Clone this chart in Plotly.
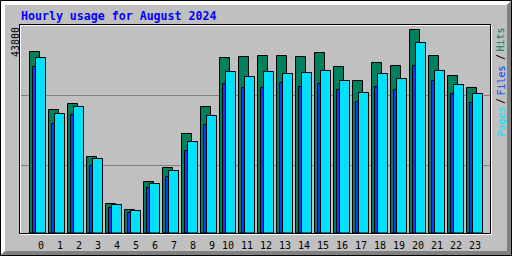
import plotly.graph_objects as go

# ---- data ----
hours = list(range(24))
hour_labels = [str(h) for h in hours]
hits = [39060, 26580, 27870, 16470, 6350, 5060, 11080, 14100, 21420, 27230, 37770, 37990,
        38200, 38200, 37990, 38850, 35840, 32820, 36700, 36050, 43800, 38200, 33900, 31320]
files = [35840, 23570, 25510, 14530, 5490, 4410, 9790, 12160, 17760, 23350, 32180, 31320,
         31320, 32390, 31530, 32180, 30890, 28300, 31530, 30890, 36050, 32820, 30030, 28090]
pages = [37770, 25720, 27230, 16040, 6130, 4840, 10650, 13450, 19690, 25290, 34760, 33680,
         34760, 34330, 34540, 34980, 32820, 30240, 34330, 33250, 41000, 34980, 31960, 30030]
max_label = "43800"
title_text = "Hourly usage for August 2024"

C_HITS = "#00805C"
C_FILES = "#0040FF"
C_PAGES = "#00E0FF"
BG = "#C0C0C0"

W, H = 512, 256
L, R, T, B = 20, 490, 25, 233  # plot area in pixels
ymax = 43800 * 208 / 203.5

def px(X):
    return (X - L) / (R - L)

def py(Y):
    return (B - Y) / (B - T)

def yval(Y):
    return (B - Y) / (B - T) * ymax

fig = go.Figure()
line = dict(color="black", width=1)
fig.add_trace(go.Bar(x=hours, y=hits, width=0.526, offset=-0.421,
                     marker=dict(color=C_HITS, line=line), name="Hits"))
fig.add_trace(go.Bar(x=hours, y=files, width=0.263, offset=-0.263,
                     marker=dict(color=C_FILES, line=line), name="Files"))
fig.add_trace(go.Bar(x=hours, y=pages, width=0.526, offset=-0.105,
                     marker=dict(color=C_PAGES, line=line), name="Pages"))

x0 = (L - 37.5) / 19
x1 = (R - 37.5) / 19

shapes = []
# outer bevel
def path(pts):
    s = "M " + " L ".join(f"{px(a)},{py(b)}" for a, b in pts) + " Z"
    return s
shapes.append(dict(type="path", xref="paper", yref="paper", layer="above",
                   path=path([(1, 1), (511, 1), (507, 5), (5, 5), (5, 251), (1, 255)]),
                   fillcolor="white", line=dict(width=0)))
shapes.append(dict(type="path", xref="paper", yref="paper", layer="above",
                   path=path([(511, 1), (511, 255), (1, 255), (5, 251), (507, 251), (507, 5)]),
                   fillcolor="#808080", line=dict(width=0)))
shapes.append(dict(type="rect", xref="paper", yref="paper", layer="above",
                   x0=px(0.5), x1=px(511.5), y0=py(0.5), y1=py(255.5),
                   line=dict(color="black", width=1)))
# plot frame
shapes.append(dict(type="rect", xref="paper", yref="paper", layer="above",
                   x0=px(20.5), x1=px(491.5), y0=py(25.5), y1=py(234.5),
                   line=dict(color="white", width=1)))
shapes.append(dict(type="rect", xref="paper", yref="paper", layer="above",
                   x0=px(19.5), x1=px(490.5), y0=py(24.5), y1=py(233.5),
                   line=dict(color="black", width=1)))

ann = []
mono = "DejaVu Sans Mono"
ann.append(dict(text=f"<b>{title_text}</b>", x=px(18.5), y=py(15.5), xref="paper", yref="paper",
                xanchor="left", yanchor="middle", showarrow=False,
                font=dict(family=mono, size=11.6, color="#0000FF")))
ann.append(dict(text=max_label, x=px(15), y=py(42), xref="paper", yref="paper",
                xanchor="center", yanchor="middle", showarrow=False, textangle=-90,
                font=dict(family=mono, size=10, color="black")))
for h, lab in zip(hours, hour_labels):
    ann.append(dict(text=lab, x=h + 0.43, y=py(245), xref="x", yref="paper",
                    xanchor="right", yanchor="middle", showarrow=False,
                    font=dict(family=mono, size=10, color="black")))
legend_parts = [("Pages", C_PAGES, 122), ("/", "black", 101.5), ("Files", C_FILES, 81),
                ("/", "black", 57.5), ("Hits", C_HITS, 40)]
for txt, col, yc in legend_parts:
    ann.append(dict(text=txt, x=px(500.5), y=py(yc), xref="paper", yref="paper",
                    xanchor="center", yanchor="middle", showarrow=False, textangle=-90,
                    font=dict(family=mono, size=10, color=col)))

fig.update_layout(
    width=W, height=H, margin=dict(l=L, r=W - R, t=T, b=H - B, pad=0),
    paper_bgcolor=BG, plot_bgcolor=BG, barmode="overlay", showlegend=False,
    shapes=shapes, annotations=ann,
    xaxis=dict(range=[x0, x1], showgrid=False, zeroline=False, showticklabels=False,
               ticks="", showline=False, fixedrange=True),
    yaxis=dict(range=[0, ymax], tickvals=[yval(165.5), yval(95.5)], showgrid=True,
               gridcolor="#808080", gridwidth=1, zeroline=False, showticklabels=False,
               ticks="", showline=False, fixedrange=True),
)
fig.write_html("out.html", config={"displayModeBar": False})
